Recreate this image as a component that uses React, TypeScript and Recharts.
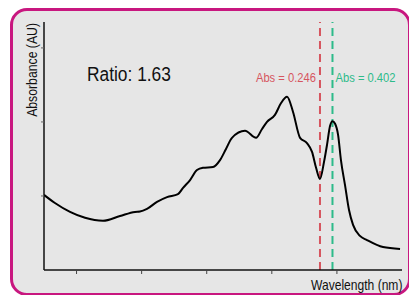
import { LineChart, Line, XAxis, YAxis, ReferenceLine, Customized } from "recharts";

const wavelengths = [
  225, 233.4, 245, 256.5, 270.3, 283.4, 294.9, 298.7, 304.1, 311.8, 319.5, 327.9,
  331.8, 337.2, 342.5, 347.1, 354.8, 360.2, 364.8, 369.4, 379.4, 387.9, 392.5,
  396.3, 402.4, 407.1, 411.7, 416.3, 421.7, 427, 430.9, 434, 437, 440.1, 442.4,
  444.7, 446.6, 448.6, 450.9, 453.1, 456.2, 459.3, 462.4, 467.7, 473.1, 485.4, 498.5,
];
const absorbance = [
  0.203, 0.181, 0.157, 0.141, 0.133, 0.146, 0.157, 0.158, 0.165, 0.184, 0.197, 0.205,
  0.222, 0.243, 0.27, 0.276, 0.278, 0.297, 0.327, 0.357, 0.376, 0.357, 0.381,
  0.4, 0.419, 0.451, 0.468, 0.427, 0.357, 0.343, 0.319, 0.276, 0.246, 0.292, 0.338,
  0.389, 0.402, 0.395, 0.365, 0.297, 0.23, 0.162, 0.122, 0.092, 0.081, 0.062, 0.057,
];
const xTicks = [250, 300, 350, 400, 450];
const yTicks = [0.2, 0.4, 0.6];
const markers = [
  { wl: 437, abs: 0.246, color: "#d6555f", side: "left" },
  { wl: 446.6, abs: 0.402, color: "#2dbb8a", side: "right" },
];
const ratio = 1.63;

const data = wavelengths.map((wl, i) => ({ wl, abs: absorbance[i] }));

const font = '"Liberation Sans", Arial, sans-serif';

// condensed look: plain Liberation Sans squeezed horizontally
const Texts = () => (
  <g fontFamily={font} fill="#111">
    <text x={0} y={0} fontSize={21} transform="translate(87 81) scale(0.827 1)">
      {`Ratio: ${ratio.toFixed(2)}`}
    </text>
    <text x={0} y={0} fontSize={14} textAnchor="end" transform="translate(37 23) rotate(-90) scale(0.875 1)">
      Absorbance (AU)
    </text>
    <text x={0} y={0} fontSize={14} transform="translate(311 290) scale(0.863 1)">
      Wavelength (nm)
    </text>
  </g>
);

const noTick = () => <g />;

export default function App() {
  return (
    <div style={{ position: "absolute", left: 0, top: 0, width: 409, height: 295, background: "#fff", overflow: "hidden" }}>
      <div
        style={{
          position: "absolute",
          left: 10,
          top: 8,
          width: 401,
          height: 288,
          boxSizing: "border-box",
          border: "3px solid #c8177f",
          borderRadius: 17,
          background: "#e6e6e6",
        }}
      />
      <div style={{ position: "absolute", left: 0, top: 0 }}>
        <LineChart width={409} height={295} data={data} margin={{ top: 22, right: 7, left: 0, bottom: 0 }}>
          <XAxis
            dataKey="wl"
            type="number"
            domain={[225, 500]}
            ticks={xTicks}
            tick={noTick}
            tickSize={4}
            height={25}
            axisLine={{ stroke: "#111", strokeWidth: 1.5 }}
            tickLine={{ stroke: "#444" }}
            allowDataOverflow
          />
          <YAxis
            type="number"
            domain={[0, 0.67]}
            ticks={yTicks}
            tick={noTick}
            tickSize={3}
            width={44}
            axisLine={{ stroke: "#111", strokeWidth: 1.5 }}
            tickLine={{ stroke: "#666" }}
            allowDataOverflow
          />
          {markers.map((m) => (
            <ReferenceLine
              key={m.wl}
              x={m.wl}
              stroke={m.color}
              strokeWidth={2}
              strokeDasharray="8 5"
              label={(props: any) => {
                const vb = props.viewBox || {};
                const left = m.side === "left";
                const tx = left ? vb.x - 4 : vb.x + 3;
                return (
                  <text
                    x={0}
                    y={0}
                    fontSize={13.5}
                    fontFamily={font}
                    fill={m.color}
                    textAnchor={left ? "end" : "start"}
                    transform={`translate(${tx} ${vb.y + 60}) scale(0.83 1)`}
                  >
                    {`Abs = ${m.abs.toFixed(3)}`}
                  </text>
                );
              }}
            />
          ))}
          <Line
            type="monotone"
            dataKey="abs"
            stroke="#000"
            strokeWidth={2}
            dot={false}
            isAnimationActive={false}
          />
          <Customized component={Texts} />
        </LineChart>
      </div>
    </div>
  );
}
